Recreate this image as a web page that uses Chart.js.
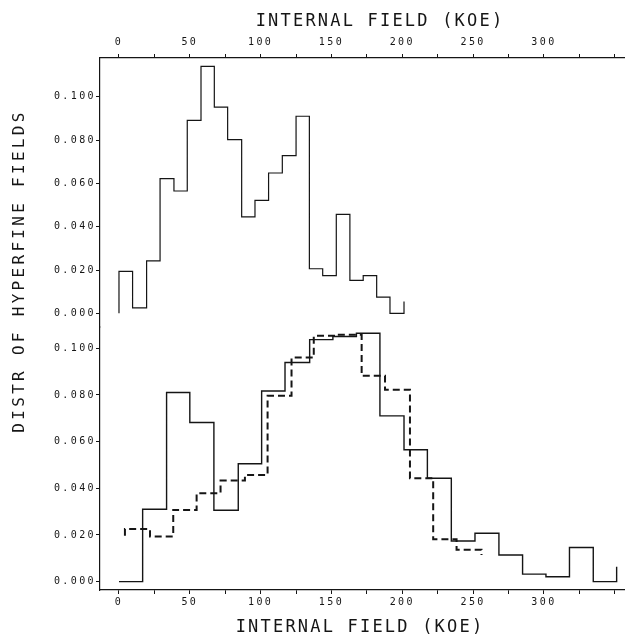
<!DOCTYPE html>
<html lang="en">
<head>
<meta charset="UTF-8">
<title>Distr of hyperfine fields</title>
<script src="https://cdn.jsdelivr.net/npm/chart.js"></script>
<style>
  html, body { margin: 0; padding: 0; background: #fff; }
</style>
</head>
<body>
<canvas id="chart" width="625" height="636"></canvas>
<script>
// upper panel histogram: bin edges (kOe) and fraction per bin
const upperEdges = [0, 9.6, 19.5, 29.0, 38.8, 48.2, 57.9, 67.3, 76.7, 86.6, 96.0,
  105.6, 115.3, 125.0, 134.4, 143.8, 153.4, 163.0, 172.4, 181.9, 191.3, 201.2];
const upperValues = [0.0194, 0.0025, 0.0242, 0.0622, 0.0565, 0.0891, 0.1140, 0.0952,
  0.0802, 0.0445, 0.0522, 0.0648, 0.0728, 0.0910, 0.0206, 0.0174, 0.0457, 0.0152,
  0.0174, 0.0075, 0.0000];
const upperEnds = [0.0, 0.0055];

// lower panel, solid histogram
const solidEdges = [0, 16.7, 33.6, 50.0, 67.0, 84.2, 100.7, 117.2, 134.6, 151.0, 167.6,
  184.2, 201.2, 217.7, 234.6, 251.3, 268.2, 284.9, 301.4, 318.0, 334.8, 351.3];
const solidValues = [0.0000, 0.0310, 0.0810, 0.0682, 0.0306, 0.0505, 0.0817, 0.0939,
  0.1037, 0.1050, 0.1064, 0.0710, 0.0565, 0.0443, 0.0174, 0.0207, 0.0114, 0.0032,
  0.0021, 0.0146, 0.0000];
const solidEnds = [0.0, 0.0064];

// lower panel, dashed histogram
const dashEdges = [4.2, 21.9, 38.3, 54.8, 71.7, 88.9, 104.9, 121.8, 137.5, 154.4,
  171.3, 187.8, 205.4, 221.8, 238.3, 255.9];
const dashValues = [0.0225, 0.0193, 0.0307, 0.0379, 0.0433, 0.0457, 0.0796, 0.0960,
  0.1053, 0.1058, 0.0882, 0.0822, 0.0443, 0.0182, 0.0136];
const dashEnds = [0.0196, 0.0114];

const xTicks = [0, 25, 50, 75, 100, 125, 150, 175, 200, 225, 250, 275, 300, 325, 350];
const xLabels = [0, 50, 100, 150, 200, 250, 300];
const yTicks = [0, 0.02, 0.04, 0.06, 0.08, 0.1];

const xTitle = 'INTERNAL FIELD (KOE)';
const yTitle = 'DISTR OF HYPERFINE FIELDS';

// turn edges + values into points for a stepped line
function stepPoints(edges, values, ends) {
  const pts = [{x: edges[0], y: ends[0]}];
  values.forEach((v, i) => pts.push({x: edges[i], y: v}));
  pts.push({x: edges[edges.length - 1], y: values[values.length - 1]});
  pts.push({x: edges[edges.length - 1], y: ends[1]});
  return pts;
}

const ink = '#151515';
const tickFont = {family: "'DejaVu Sans Mono', monospace", size: 10};

function xAxis(position, height, pad) {
  return {
    type: 'linear',
    position: position,
    min: -13.4,
    max: 357.2,
    grid: {drawOnChartArea: false, tickLength: 4, color: ink, lineWidth: 1},
    border: {display: true, color: ink, width: 1.3},
    ticks: {
      autoSkip: false, maxRotation: 0, padding: pad, color: ink, font: tickFont,
      callback: v => xLabels.includes(v) ? String(v) : ''
    },
    afterBuildTicks: s => { s.ticks = xTicks.map(v => ({value: v})); },
    afterFit: s => { s.height = height; }
  };
}

function yAxis(min, max, stackWeight, weight) {
  return {
    type: 'linear',
    position: 'left',
    stack: 'panels',
    stackWeight: stackWeight,
    weight: weight,
    min: min,
    max: max,
    grid: {drawOnChartArea: false, tickLength: 4, color: ink, lineWidth: 1},
    border: {display: true, color: ink, width: 1.2},
    ticks: {padding: 0, color: ink, font: tickFont, callback: v => v.toFixed(3)},
    afterBuildTicks: s => { s.ticks = yTicks.map(v => ({value: v})); },
    afterFit: s => { s.width = 100; }
  };
}

const titles = {
  id: 'plotterTitles',
  beforeDraw(chart) { chart.ctx.letterSpacing = '2.4px'; },
  afterDraw(chart) {
    const {ctx, chartArea: a} = chart;
    ctx.save();
    ctx.fillStyle = ink;
    ctx.textAlign = 'center';
    ctx.textBaseline = 'middle';
    ctx.font = "17px 'DejaVu Sans Mono', monospace";
    ctx.letterSpacing = '2.2px';
    ctx.fillText(xTitle, a.left + 280, a.top - 36);
    ctx.fillText(xTitle, a.left + 260, a.bottom + 38);
    ctx.translate(20, a.top + 213);
    ctx.rotate(-Math.PI / 2);
    ctx.font = "16px 'DejaVu Sans Mono', monospace";
    ctx.letterSpacing = '3.3px';
    ctx.fillText(yTitle, 0, 0);
    ctx.restore();
  }
};

new Chart(document.getElementById('chart'), {
  type: 'line',
  data: {
    datasets: [
      {
        data: stepPoints(upperEdges, upperValues, upperEnds),
        xAxisID: 'x', yAxisID: 'yU',
        borderColor: ink, borderWidth: 1.2, stepped: true, pointRadius: 0, clip: false
      },
      {
        data: stepPoints(solidEdges, solidValues, solidEnds),
        xAxisID: 'x', yAxisID: 'yL',
        borderColor: ink, borderWidth: 1.4, stepped: true, pointRadius: 0, clip: false
      },
      {
        data: stepPoints(dashEdges, dashValues, dashEnds),
        xAxisID: 'x', yAxisID: 'yL',
        borderColor: ink, borderWidth: 2, borderDash: [7, 4], stepped: true,
        pointRadius: 0, clip: false
      }
    ]
  },
  options: {
    responsive: false,
    animation: false,
    layout: {padding: 0},
    plugins: {legend: {display: false}, tooltip: {enabled: false}},
    scales: {
      x: xAxis('bottom', 46, 2),
      xTop: xAxis('top', 58, 6),
      yU: yAxis(-0.0063, 0.1179, 269, 2),
      yL: yAxis(-0.0036, 0.1091, 263, 1)
    }
  },
  plugins: [titles]
});
</script>
</body>
</html>
